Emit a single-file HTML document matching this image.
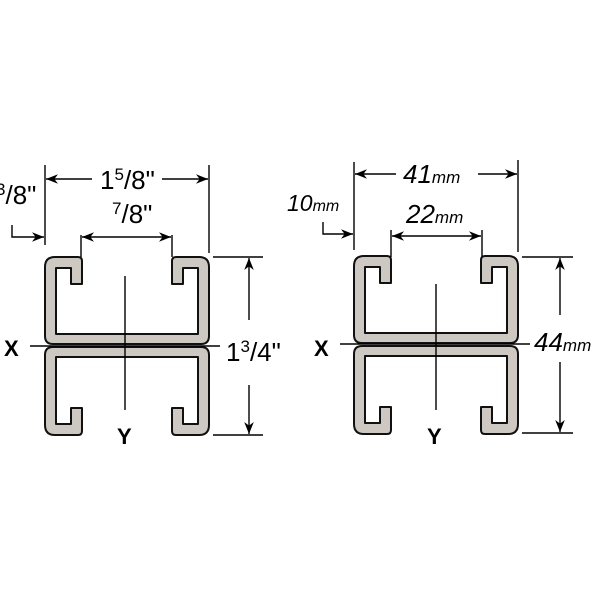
<!DOCTYPE html>
<html><head><style>body{margin:0;background:#fff}svg{display:block}</style></head><body>
<svg width="600" height="600" viewBox="0 0 600 600" xmlns="http://www.w3.org/2000/svg" font-family="Liberation Sans, sans-serif">
<defs>
<marker id="a" viewBox="0 0 10 10" refX="10" refY="5" markerWidth="14" markerHeight="12" orient="auto-start-reverse" markerUnits="userSpaceOnUse"><path d="M0,1 L10,5 L0,9 L3,5z" fill="#000"/></marker>
<g id="prof" fill="#cdc8c2" stroke="#111" stroke-width="2" stroke-linejoin="round">
<path d="M55,257 L78,257 Q82,257 82,261 L82,284 L71,284 L71,268 L56,268 L56,334 L198,334 L198,268 L183,268 L183,284 L172,284 L172,261 Q172,257 176,257 L199,257 Q209,257 209,267 L209,336 Q209,344 201,344 L53,344 Q45,344 45,336 L45,267 Q45,257 55,257Z"/>
<path d="M55,435 L78,435 Q82,435 82,431 L82,408 L71,408 L71,424 L56,424 L56,357 L198,357 L198,424 L183,424 L183,408 L172,408 L172,431 Q172,435 176,435 L199,435 Q209,435 209,425 L209,355 Q209,347 201,347 L53,347 Q45,347 45,355 L45,425 Q45,435 55,435Z"/>
</g>
</defs>
<use href="#prof"/>
<use href="#prof" transform="translate(309,-1)"/>
<g stroke="#000" stroke-width="1.4" fill="none">
<line x1="45" y1="165" x2="45" y2="245"/><line x1="209" y1="165" x2="209" y2="253"/>
<line x1="92" y1="179" x2="46" y2="179" marker-end="url(#a)"/><line x1="162" y1="179" x2="208" y2="179" marker-end="url(#a)"/>
<line x1="81" y1="235" x2="81" y2="257"/><line x1="172" y1="235" x2="172" y2="257"/>
<line x1="82" y1="237" x2="171" y2="237" marker-start="url(#a)" marker-end="url(#a)"/>
<polyline points="12,225 12,237 44,237" marker-end="url(#a)"/>
<line x1="213" y1="257" x2="263" y2="257"/><line x1="213" y1="435" x2="263" y2="435"/>
<line x1="249" y1="320" x2="249" y2="258" marker-end="url(#a)"/><line x1="249" y1="385" x2="249" y2="434" marker-end="url(#a)"/>
<line x1="30" y1="346" x2="220" y2="346"/><line x1="125" y1="276" x2="125" y2="410"/>
<line x1="354" y1="162" x2="354" y2="250"/><line x1="518" y1="160" x2="518" y2="252"/>
<line x1="396" y1="174" x2="355" y2="174" marker-end="url(#a)"/><line x1="478" y1="174" x2="517" y2="174" marker-end="url(#a)"/>
<line x1="391" y1="230" x2="391" y2="257"/><line x1="482" y1="230" x2="482" y2="257"/>
<line x1="392" y1="236" x2="481" y2="236" marker-start="url(#a)" marker-end="url(#a)"/>
<polyline points="323,222 323,234 353,234" marker-end="url(#a)"/>
<line x1="522" y1="257" x2="573" y2="257"/><line x1="522" y1="433" x2="573" y2="433"/>
<line x1="560" y1="315" x2="560" y2="258" marker-end="url(#a)"/><line x1="560" y1="362" x2="560" y2="432" marker-end="url(#a)"/>
<line x1="340" y1="344" x2="530" y2="344"/><line x1="436" y1="284" x2="436" y2="410"/>
</g>
<g fill="#000" font-size="26">
<text x="100" y="189">1<tspan font-size="17" dy="-9">5</tspan><tspan dy="9">/8"</tspan></text>
<text x="112" y="223"><tspan font-size="17" dy="-9">7</tspan><tspan dy="9">/8"</tspan></text>
<text x="-4" y="204"><tspan font-size="17" dy="-9">3</tspan><tspan dy="9">/8"</tspan></text>
<text x="226" y="361">1<tspan font-size="17" dy="-9">3</tspan><tspan dy="9">/4"</tspan></text>
<text x="4" y="356" font-weight="bold" font-size="22">X</text>
<text x="117" y="444" font-weight="bold" font-size="22">Y</text>
<text x="403" y="183" font-style="italic">41<tspan font-size="17">mm</tspan></text>
<text x="406" y="223" font-style="italic">22<tspan font-size="17">mm</tspan></text>
<text x="287" y="211" font-style="italic" font-size="23">10<tspan font-size="16">mm</tspan></text>
<text x="534" y="351" font-style="italic">44<tspan font-size="17">mm</tspan></text>
<text x="314" y="356" font-weight="bold" font-size="22">X</text>
<text x="427" y="444" font-weight="bold" font-size="22">Y</text>
</g>
</svg>
</body></html>
